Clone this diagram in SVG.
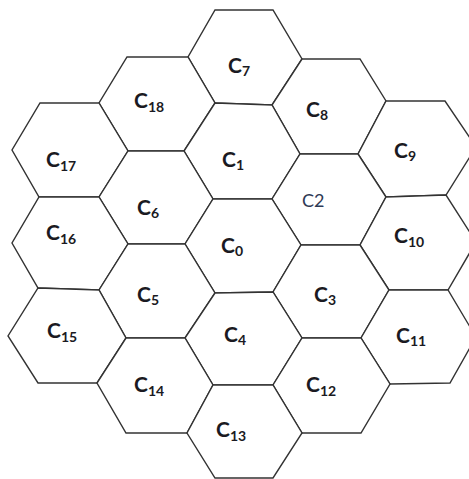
<svg xmlns="http://www.w3.org/2000/svg" width="469" height="479" viewBox="0 0 469 479">
<style>
.hex{fill:#fff;stroke:#333;stroke-width:1.4;stroke-linejoin:miter}
.lb{font-family:Lato,"Open Sans","Liberation Sans",sans-serif;font-weight:bold;font-size:21px;fill:#1a1a22}
.sub{font-size:14px}
.plain{font-family:Lato,"Open Sans","Liberation Sans",sans-serif;font-size:18px;fill:#2e3a55}
</style>
<rect width="469" height="479" fill="#fff"/>
<g id="C7"><polygon class="hex" points="215,10 273,10 302,59 272,105 215,103 188,57"/><text class="lb" x="228" y="73">C<tspan class="sub" dy="3">7</tspan></text></g>
<g id="C18"><polygon class="hex" points="127,57 188,57 215,103 184,151 128,151 99,103"/><text class="lb" x="134" y="108">C<tspan class="sub" dy="4">18</tspan></text></g>
<g id="C8"><polygon class="hex" points="302,59 360,59 386,101 358,154 300,154 272,105"/><text class="lb" x="306" y="117">C<tspan class="sub" dy="3">8</tspan></text></g>
<g id="C17"><polygon class="hex" points="40,103 99,103 128,151 99,197 39,197 12,150"/><text class="lb" x="46" y="167">C<tspan class="sub" dy="4">17</tspan></text></g>
<g id="C1"><polygon class="hex" points="215,103 272,105 300,154 272,199 213,199 184,151"/><text class="lb" x="222" y="167">C<tspan class="sub" dy="3">1</tspan></text></g>
<g id="C9"><polygon class="hex" points="386,101 445,101 476,147 446,195 386,197 358,154"/><text class="lb" x="394" y="158">C<tspan class="sub" dy="3">9</tspan></text></g>
<g id="C2"><polygon class="hex" points="300,154 358,154 386,197 360,245 301,245 272,199"/><text class="plain" x="302" y="207">C2</text></g>
<g id="C6"><polygon class="hex" points="128,151 184,151 213,199 185,244 128,244 99,197"/><text class="lb" x="137" y="215">C<tspan class="sub" dy="3">6</tspan></text></g>
<g id="C16"><polygon class="hex" points="39,197 99,197 128,244 99,290 38,288 12,243"/><text class="lb" x="46" y="240">C<tspan class="sub" dy="4">16</tspan></text></g>
<g id="C0"><polygon class="hex" points="213,199 272,199 301,245 273,292 215,293 185,244"/><text class="lb" x="221" y="253">C<tspan class="sub" dy="3">0</tspan></text></g>
<g id="C10"><polygon class="hex" points="386,197 446,195 476,242 448,290 389,290 360,245"/><text class="lb" x="394" y="243">C<tspan class="sub" dy="4">10</tspan></text></g>
<g id="C5"><polygon class="hex" points="128,244 185,244 215,293 185,338 126,338 99,290"/><text class="lb" x="137" y="302">C<tspan class="sub" dy="3">5</tspan></text></g>
<g id="C3"><polygon class="hex" points="301,245 360,245 389,290 361,338 302,338 273,292"/><text class="lb" x="314" y="302">C<tspan class="sub" dy="3">3</tspan></text></g>
<g id="C15"><polygon class="hex" points="38,288 99,290 126,338 97,383 38,383 8,336"/><text class="lb" x="47" y="338">C<tspan class="sub" dy="4">15</tspan></text></g>
<g id="C4"><polygon class="hex" points="215,293 273,292 302,338 273,385 213,385 185,338"/><text class="lb" x="224" y="342">C<tspan class="sub" dy="3">4</tspan></text></g>
<g id="C11"><polygon class="hex" points="389,290 448,290 476,337 450,383 390,384 361,338"/><text class="lb" x="396" y="343">C<tspan class="sub" dy="3">11</tspan></text></g>
<g id="C14"><polygon class="hex" points="126,338 185,338 213,385 187,433 126,433 97,383"/><text class="lb" x="134" y="392">C<tspan class="sub" dy="4">14</tspan></text></g>
<g id="C12"><polygon class="hex" points="302,338 361,338 390,384 361,433 302,433 273,385"/><text class="lb" x="306" y="392">C<tspan class="sub" dy="4">12</tspan></text></g>
<g id="C13"><polygon class="hex" points="213,385 273,385 302,433 273,478 215,478 187,433"/><text class="lb" x="216" y="437">C<tspan class="sub" dy="4">13</tspan></text></g>
</svg>
